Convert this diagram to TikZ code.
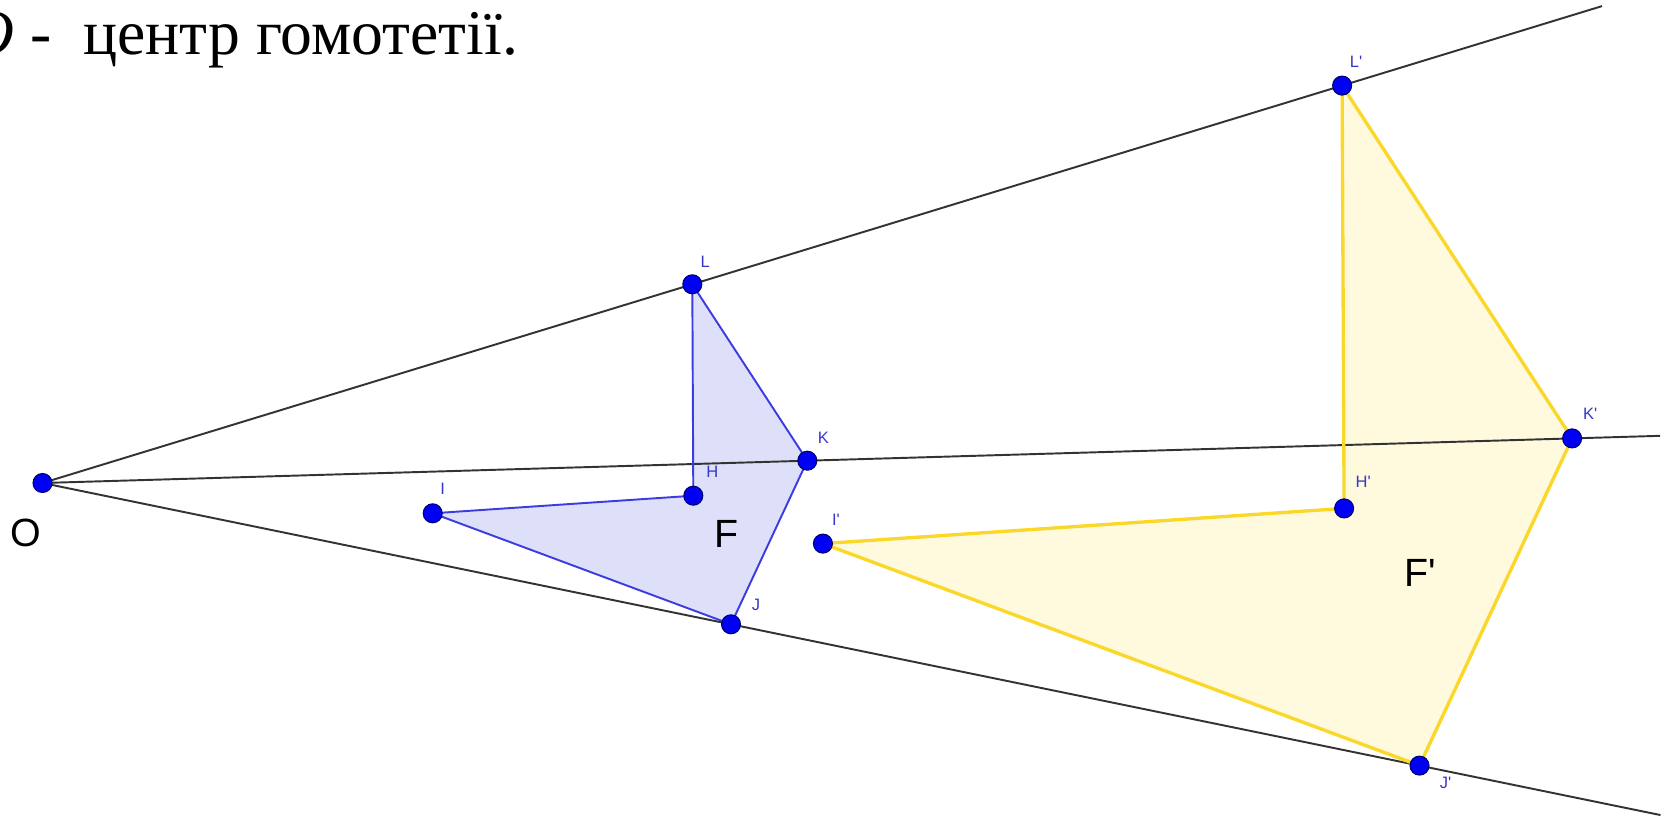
\documentclass[tikz,border=0pt]{standalone}
\usepackage{fontspec}
\setmainfont{Liberation Serif}
\newfontfamily\lblfont{Liberation Sans}
\usetikzlibrary{calc}
\usepackage{xcolor}

\definecolor{ptblue}{RGB}{0,0,245}
\definecolor{ptedge}{RGB}{0,0,110}
\definecolor{lblblue}{RGB}{55,55,200}
\definecolor{fedge}{RGB}{60,60,225}
\definecolor{ffill}{RGB}{222,223,248}
\definecolor{gedge}{RGB}{250,215,40}
\definecolor{gfill}{RGB}{255,249,222}

\begin{document}
\begin{tikzpicture}[x=0.01cm, y=-0.01cm]
    % point and label styles
    \tikzstyle{dot}=[
      circle,
      draw=ptedge,
      fill=ptblue,
      line width=0.3pt,
      inner sep=0pt,
      minimum size=0.19cm
    ]
    \tikzstyle{lbl}=[
      text=lblblue,
      font=\lblfont\fontsize{4.7}{5}\selectfont,
      inner sep=0pt
    ]
    \tikzstyle{ray}=[draw=black!80, line width=0.55pt]
    \tikzstyle{big}=[font=\lblfont\fontsize{11.2}{12}\selectfont, inner sep=0pt]

    \useasboundingbox (0,0) rectangle (1664,819);
    \clip (0,0) rectangle (1664,819);

    % Centre and figure F
    \coordinate (O) at (42.5,483);
    \coordinate (L) at (692.3,284.3);
    \coordinate (K) at (807.3,460.7);
    \coordinate (H) at (693.3,495.7);
    \coordinate (I) at (432.7,513.3);
    \coordinate (J) at (731,624.3);

    % Image F' (k = 2)
    \coordinate (Lp) at ($(O)!2!(L)$);
    \coordinate (Kp) at ($(O)!2!(K)$);
    \coordinate (Hp) at ($(O)!2!(H)$);
    \coordinate (Ip) at ($(O)!2!(I)$);
    \coordinate (Jp) at ($(O)!2!(J)$);

    % Ends of the rays
    \coordinate (Lend) at ($(O)!2.4!(L)$);
    \coordinate (Kend) at ($(O)!2.115!(K)$);
    \coordinate (Jend) at ($(O)!2.35!(J)$);

    % Fills
    \fill[ffill] (I) -- (H) -- (L) -- (K) -- (J) -- cycle;
    \fill[gfill] (Ip) -- (Hp) -- (Lp) -- (Kp) -- (Jp) -- cycle;

    % Rays from O
    \draw[ray] (O) -- (Lend);
    \draw[ray] (O) -- (Kend);
    \draw[ray] (O) -- (Jend);

    % Polygon edges
    \draw[fedge, line width=0.55pt, line join=round] (I) -- (H) -- (L) -- (K) -- (J) -- cycle;
    \draw[gedge, line width=0.95pt, line join=round] (Ip) -- (Hp) -- (Lp) -- (Kp) -- (Jp) -- cycle;

    % Points
    \foreach \p in {O,L,K,H,I,J,Lp,Kp,Hp,Ip,Jp}
      \node[dot] (\p dot) at (\p) {};

    % Point labels
    \node[lbl] (Llbl) at ($(L)+(13,-22)$) {L};
    \node[lbl] (Klbl) at ($(K)+(16,-23)$) {K};
    \node[lbl] (Hlbl) at ($(H)+(19,-24)$) {H};
    \node[lbl] (Ilbl) at ($(I)+(10,-24)$) {I};
    \node[lbl] (Jlbl) at ($(J)+(25,-19)$) {J};
    \node[lbl] (Lplbl) at ($(Lp)+(14,-24)$) {L'};
    \node[lbl] (Kplbl) at ($(Kp)+(18,-25)$) {K'};
    \node[lbl] (Hplbl) at ($(Hp)+(19,-27)$) {H'};
    \node[lbl] (Iplbl) at ($(Ip)+(13,-24)$) {I'};
    \node[lbl] (Jplbl) at ($(Jp)+(26,17)$) {J'};

    % Figure names
    \node[big] (Olbl) at (26,533) {O};
    \node[big] (Flbl) at (726.5,534) {F};
    \node[big] (Fplbl) at (1420,573) {F'};

    % Title
    \node[anchor=base west, inner sep=0pt, font=\fontsize{18.1}{21}\selectfont] (title) at (-32,55) {\textit{O} -\ \ центр гомотетії.};
\end{tikzpicture}
\end{document}
